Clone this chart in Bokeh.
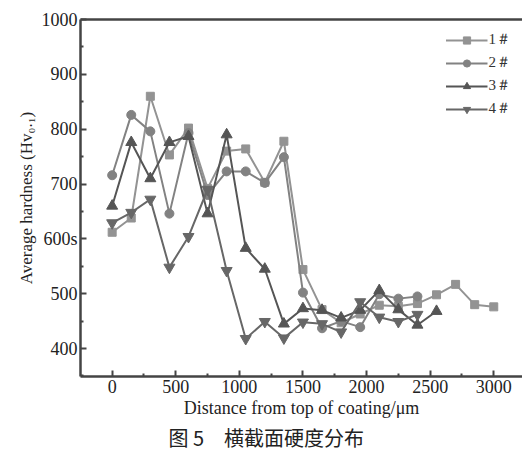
from bokeh.plotting import figure
from bokeh.models import LinearAxis, Title, Legend, LegendItem, FixedTicker, Range1d
from bokeh.embed import file_html
from bokeh.resources import INLINE

x1 = [0, 150, 300, 450, 600, 750, 900, 1050, 1200, 1350, 1500, 1650, 1800, 1950, 2100, 2250, 2400, 2550, 2700, 2850, 3000]
y1 = [612, 638, 860, 753, 802, 692, 760, 764, 703, 778, 544, 471, 447, 463, 479, 477, 482, 498, 517, 480, 476]

x2 = [0, 150, 300, 450, 600, 750, 900, 1050, 1200, 1350, 1500, 1650, 1800, 1950, 2100, 2250, 2400]
y2 = [716, 826, 796, 646, 793, 680, 723, 723, 702, 749, 502, 437, 450, 439, 499, 491, 495]

x3 = [0, 150, 300, 450, 600, 750, 900, 1050, 1200, 1350, 1500, 1650, 1800, 1950, 2100, 2250, 2400, 2550]
y3 = [660, 776, 710, 776, 787, 646, 790, 583, 545, 445, 473, 470, 456, 470, 506, 471, 443, 468]

x4 = [0, 150, 300, 450, 600, 750, 900, 1050, 1200, 1350, 1500, 1650, 1800, 1950, 2100, 2250, 2400]
y4 = [629, 648, 672, 548, 604, 690, 542, 418, 449, 419, 448, 445, 430, 485, 457, 449, 462]

labels = ["1＃", "2＃", "3＃", "4＃"]
x_ticks = [0, 500, 1000, 1500, 2000, 2500, 3000]
y_ticks = [400, 500, 600, 700, 800, 900, 1000]
caption = "图 5\u3000横截面硬度分布"

SERIF = "Liberation Serif, Times New Roman, serif"

p = figure(width=522, height=451, output_backend="svg", toolbar_location=None,
           x_range=Range1d(-249, 3226), y_range=Range1d(349, 1000),
           min_border_left=80, min_border_right=0, min_border_top=19, min_border_bottom=10)
p.outline_line_color = None
p.grid.visible = False
p.background_fill_color = "white"

for ax in (p.xaxis[0], p.yaxis[0]):
    ax.axis_line_width = 2.5
    ax.axis_line_color = "#444444"
    ax.major_tick_line_color = "#444444"
    ax.minor_tick_line_color = "#444444"
    ax.major_tick_line_width = 2
    ax.minor_tick_line_width = 2
    ax.major_tick_in = 6
    ax.major_tick_out = 0
    ax.minor_tick_in = 3
    ax.minor_tick_out = 0
    ax.major_label_text_font = SERIF
    ax.major_label_text_font_size = "18px"
    ax.major_label_text_color = "#222222"
    ax.axis_label_text_font = SERIF
    ax.axis_label_text_font_style = "normal"
    ax.axis_label_text_color = "#222222"

p.xaxis[0].ticker = FixedTicker(ticks=x_ticks, minor_ticks=[-250, 250, 750, 1250, 1750, 2250, 2750])
p.yaxis[0].ticker = FixedTicker(ticks=y_ticks, minor_ticks=[350, 450, 550, 650, 750, 850, 950])
p.yaxis[0].major_label_overrides = {600: "600s"}
p.xaxis[0].axis_label = "Distance from top of coating/μm"
p.xaxis[0].axis_label_text_font_size = "18px"
p.xaxis[0].axis_label_standoff = 2
p.xaxis[0].major_label_standoff = 3
p.yaxis[0].axis_label = "Average hardness (Hv₀.₁)"
p.yaxis[0].axis_label_text_font_size = "17px"
p.yaxis[0].axis_label_standoff = 3
p.yaxis[0].major_label_standoff = 3

top = LinearAxis(ticker=FixedTicker(ticks=[]), major_tick_line_color=None, minor_tick_line_color=None,
                 axis_line_width=2.5, axis_line_color="#444444")
p.add_layout(top, "above")

series = [
    (x1, y1, "#939393", "square", 8),
    (x2, y2, "#828282", "circle", 9),
    (x3, y3, "#555555", "triangle", 11),
    (x4, y4, "#676767", "inverted_triangle", 11),
]
items = []
for (xs, ys, c, m, s), lab in zip(series, labels):
    r1 = p.line(xs, ys, line_color=c, line_width=2)
    r2 = p.scatter(xs, ys, marker=m, size=s, fill_color=c, line_color=c)
    items.append(LegendItem(label=lab, renderers=[r1, r2]))

legend = Legend(items=items, location="top_right", border_line_color=None,
                background_fill_alpha=0, glyph_width=42, glyph_height=18,
                label_standoff=1, spacing=4, padding=0, margin=11, label_height=18,
                label_text_font=SERIF, label_text_font_size="15px", label_text_color="#333333")
p.add_layout(legend)

cap = Title(text=caption, align="left", text_font="Noto Sans CJK SC",
            text_font_size="20px", text_font_style="normal", text_color="#222222",
            offset=88, standoff=0)
p.add_layout(cap, "below")

open("out.html", "w").write(file_html(p, INLINE))
